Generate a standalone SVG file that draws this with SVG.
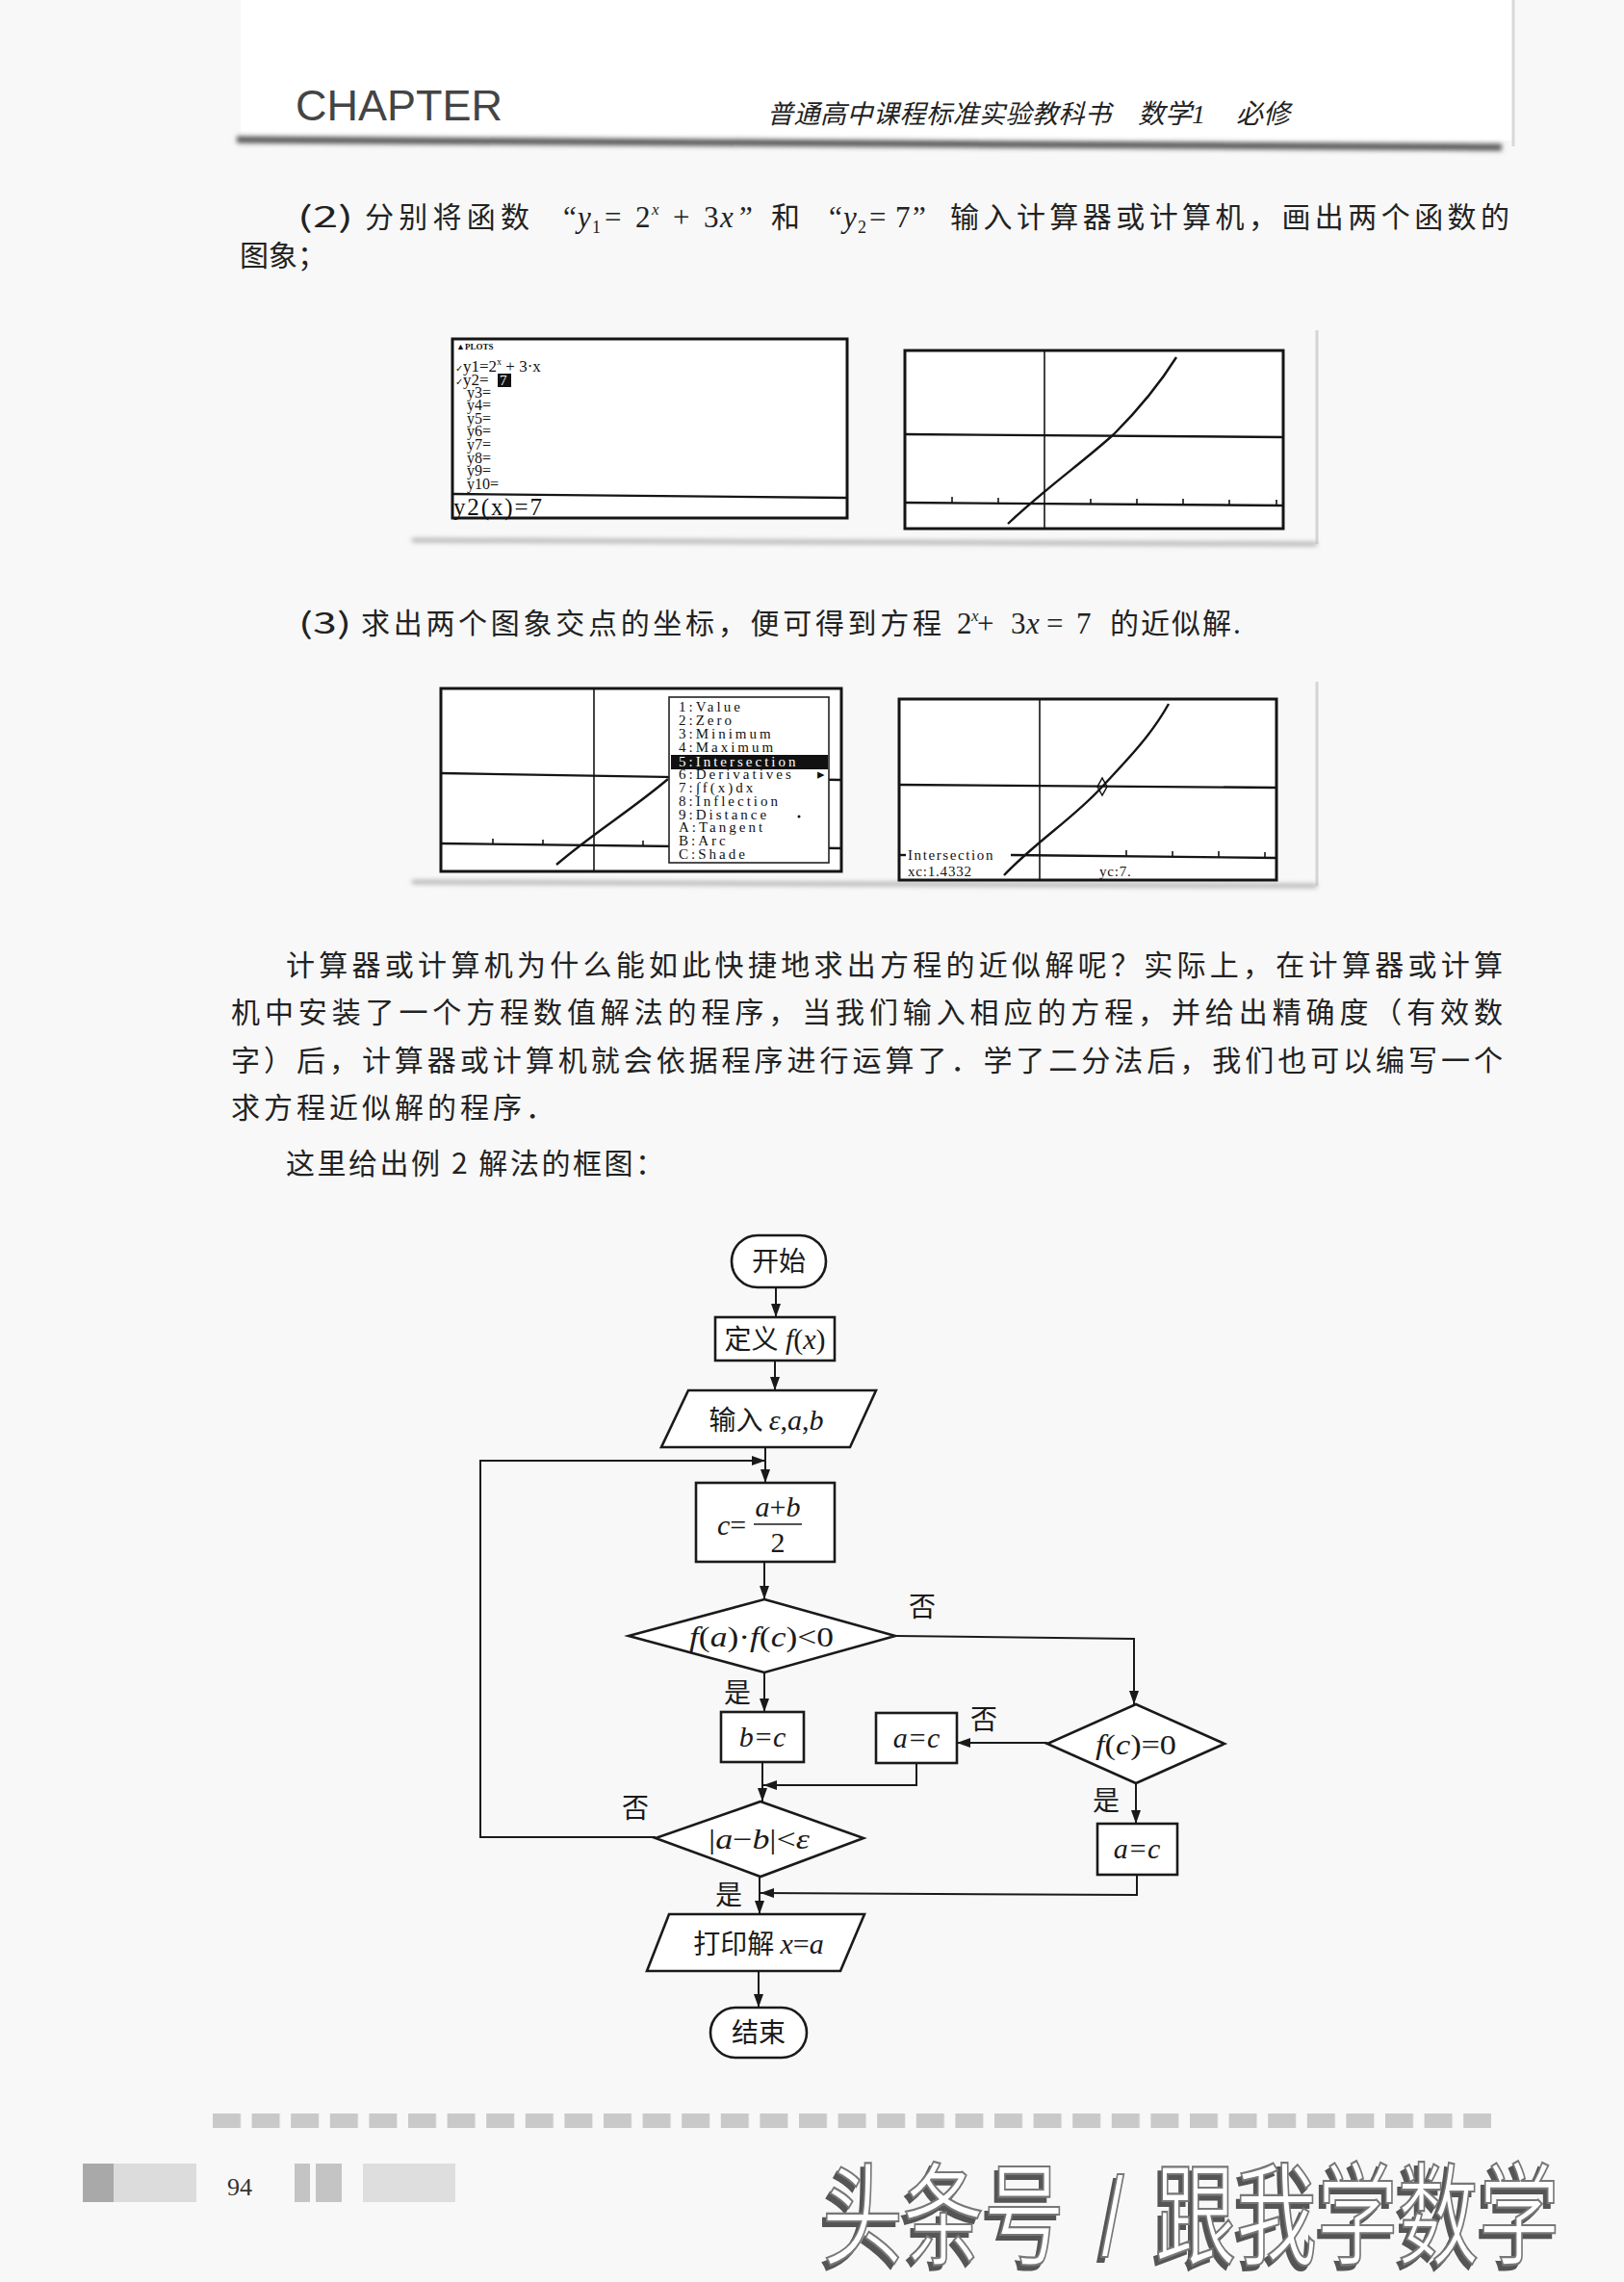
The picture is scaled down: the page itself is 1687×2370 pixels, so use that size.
<svg xmlns="http://www.w3.org/2000/svg" width="1687" height="2370" viewBox="0 0 1687 2370">
<defs>
<style>
.cn{font-family:"Noto Sans CJK SC","Noto Sans CJK JP",sans-serif;fill:#222;}
.bd{font-size:30px;}
.m{font-family:"Liberation Serif","DejaVu Serif",serif;fill:#222;}
.it{font-style:italic;}
.calc{font-family:"Liberation Serif","DejaVu Serif",serif;fill:#111;}
.scr{fill:#fff;stroke:#151515;stroke-width:3;}
.ax{stroke:#151515;stroke-width:2.4;fill:none;}
.thin{stroke:#151515;stroke-width:1.6;fill:none;}
.node{stroke:#1a1a1a;stroke-width:2.6;fill:#fff;}
.edge{stroke:#1a1a1a;stroke-width:2;fill:none;}
.fc{font-family:"Noto Sans CJK SC","Noto Sans CJK JP",sans-serif;font-size:28px;fill:#1a1a1a;}
.fm{font-family:"Liberation Serif","DejaVu Serif",serif;font-size:30px;fill:#1a1a1a;}
.mn{font-family:"Liberation Serif",serif;font-size:15px;letter-spacing:3px;fill:#111;}
</style>
<marker id="ah" markerWidth="14" markerHeight="10" refX="14" refY="5" orient="auto" markerUnits="userSpaceOnUse"><path d="M0,0 L14,5 L0,10 Z" fill="#1a1a1a"/></marker>
<filter id="blur" x="-5%" y="-200%" width="110%" height="500%"><feGaussianBlur stdDeviation="2.5"/></filter>
<filter id="blur2" x="-5%" y="-5%" width="110%" height="110%"><feGaussianBlur stdDeviation="1.5"/></filter>
<filter id="wshadow" x="-5%" y="-10%" width="110%" height="125%"><feDropShadow dx="-4" dy="5" stdDeviation="0.6" flood-color="#555" flood-opacity="1"/></filter>
<pattern id="dash" x="221" y="2195" width="40.6" height="16" patternUnits="userSpaceOnUse"><rect width="29" height="15" fill="#c9c9c9"/></pattern>
</defs>

<rect x="0" y="0" width="1687" height="2370" fill="#f8f8f8"/>

<!-- header -->
<g id="header">
<rect x="250" y="0" width="1322" height="146" fill="#fff"/>
<line x1="251" y1="0" x2="251" y2="146" stroke="#8a8a8a" stroke-width="3" filter="url(#blur2)"/>
<line x1="1572" y1="0" x2="1572" y2="152" stroke="#d8d8d8" stroke-width="3"/>
<path d="M246,145 L1560,153" stroke="#555" stroke-width="7" filter="url(#blur)"/>
<text x="307" y="125" font-family="Liberation Sans, Arial, sans-serif" font-size="45" fill="#444">CHAPTER</text>
<text x="797" y="128" class="cn" font-size="27" font-style="italic" fill="#333" textLength="357" lengthAdjust="spacing">普通高中课程标准实验教科书</text>
<text x="1182" y="128" class="cn" font-size="28" font-style="italic" fill="#333">数学<tspan font-family="Liberation Serif, serif" font-style="italic">1</tspan></text>
<text x="1284" y="128" class="cn" font-size="28" font-style="italic" fill="#333">必修</text>
</g>

<!-- paragraph (2) -->
<g id="para2">
<text x="309" y="236" class="cn bd" textLength="58" lengthAdjust="spacingAndGlyphs">(2)</text>
<text x="379" y="236" class="cn bd" textLength="171" lengthAdjust="spacing">分别将函数</text>
<text y="236" class="m" font-size="31"><tspan x="585">“</tspan><tspan x="600" class="it">y</tspan><tspan x="615" font-size="18" dy="6">1</tspan><tspan x="628" dy="-6">=</tspan><tspan x="660">2</tspan><tspan x="677" class="it" font-size="17" dy="-13">x</tspan><tspan x="699" dy="13">+</tspan><tspan x="731">3</tspan><tspan x="748" class="it">x</tspan><tspan x="768">”</tspan></text>
<text x="801" y="236" class="cn bd">和</text>
<text y="236" class="m" font-size="31"><tspan x="861">“</tspan><tspan x="876" class="it">y</tspan><tspan x="891" font-size="18" dy="6">2</tspan><tspan x="903" dy="-6">=</tspan><tspan x="930">7</tspan><tspan x="948">”</tspan></text>
<text x="987" y="236" class="cn bd" textLength="581" lengthAdjust="spacing">输入计算器或计算机，画出两个函数的</text>
<text x="249" y="276" class="cn bd">图象；</text>
</g>

<!-- screenshots row 1 -->
<g id="screens1">
<line x1="1368" y1="343" x2="1368" y2="565" stroke="#d5d5d5" stroke-width="3"/>
<path d="M428,561 L1368,565" stroke="#aaa" stroke-width="4" filter="url(#blur)"/>
<rect x="470" y="352" width="410" height="186" class="scr"/>
<line x1="470" y1="513" x2="880" y2="517" class="ax"/>
<text x="474" y="363" class="calc" font-size="9" font-weight="bold">▲PLOTS</text>
<text y="386" class="calc" font-size="17"><tspan x="473" font-family="DejaVu Sans, sans-serif" font-size="10">✓</tspan><tspan x="481">y1=2</tspan><tspan font-size="10" dy="-7">x</tspan><tspan dy="7"> + 3·x</tspan></text>
<text y="400" class="calc" font-size="17"><tspan x="473" font-family="DejaVu Sans, sans-serif" font-size="10">✓</tspan><tspan x="481">y2=</tspan></text>
<rect x="517" y="388" width="14" height="14" fill="#111"/>
<text x="519" y="400" class="calc" font-size="15" style="fill:#fff">7</text>
<text x="485" y="413" class="calc" font-size="16">y3=</text>
<text x="485" y="426" class="calc" font-size="16">y4=</text>
<text x="485" y="440" class="calc" font-size="16">y5=</text>
<text x="485" y="453" class="calc" font-size="16">y6=</text>
<text x="485" y="467" class="calc" font-size="16">y7=</text>
<text x="485" y="481" class="calc" font-size="16">y8=</text>
<text x="485" y="494" class="calc" font-size="16">y9=</text>
<text x="485" y="508" class="calc" font-size="16">y10=</text>
<text x="471" y="535" class="calc" font-size="25" textLength="92" lengthAdjust="spacing">y2(x)=7</text>

<rect x="940" y="364" width="393" height="185" class="scr"/>
<line x1="940" y1="451" x2="1333" y2="454" class="ax"/>
<line x1="940" y1="522" x2="1333" y2="525" class="ax"/>
<line x1="1085" y1="364" x2="1085" y2="549" class="thin"/>
<path d="M989,516 V522 M1037,517 V523 M1133,518 V524 M1181,518 V524 M1229,518 V524 M1277,519 V525 M1326,519 V525" class="thin"/>
<path d="M1047,544 C1085,508 1125,480 1157,451 C1180,428 1205,398 1222,371" class="ax"/>
</g>

<!-- paragraph (3) -->
<g id="para3">
<text x="310" y="658" class="cn bd" textLength="55" lengthAdjust="spacingAndGlyphs">(3)</text>
<text x="375" y="658" class="cn bd" textLength="603" lengthAdjust="spacing">求出两个图象交点的坐标，便可得到方程</text>
<text y="658" class="m" font-size="31"><tspan x="994">2</tspan><tspan x="1009" class="it" font-size="17" dy="-13">x</tspan><tspan x="1015" dy="13">+</tspan><tspan x="1050">3</tspan><tspan x="1066" class="it">x</tspan><tspan x="1087">=</tspan><tspan x="1118">7</tspan></text>
<text x="1153" y="658" class="cn bd" textLength="126" lengthAdjust="spacing">的近似解</text>
<text x="1281" y="658" class="m" font-size="31">.</text>
</g>

<!-- screenshots row 2 -->
<g id="screens2">
<line x1="1368" y1="708" x2="1368" y2="920" stroke="#d5d5d5" stroke-width="3"/>
<path d="M428,916 L1368,920" stroke="#aaa" stroke-width="4" filter="url(#blur)"/>
<rect x="458" y="715" width="416" height="190" class="scr"/>
<line x1="458" y1="803" x2="874" y2="810" class="ax"/>
<line x1="458" y1="876" x2="874" y2="881" class="ax"/>
<line x1="617" y1="715" x2="617" y2="905" class="thin"/>
<path d="M512,871 V877 M564,872 V878 M668,873 V879" class="thin"/>
<path d="M578,898 C615,866 655,842 694,809" class="ax"/>
<rect x="695" y="724" width="166" height="172" fill="#fff" stroke="#222" stroke-width="1.6"/>
<rect x="697" y="784" width="163" height="15" fill="#111"/>
<text x="705" y="739" class="mn">1:Value</text>
<text x="705" y="753" class="mn">2:Zero</text>
<text x="705" y="767" class="mn">3:Minimum</text>
<text x="705" y="781" class="mn">4:Maximum</text>
<text x="705" y="796" class="mn" style="fill:#fff">5:Intersection</text>
<text x="705" y="809" class="mn">6:Derivatives</text>
<text x="849" y="809" class="mn">▸</text>
<text x="705" y="823" class="mn">7:∫f(x)dx</text>
<text x="705" y="837" class="mn">8:Inflection</text>
<text x="705" y="851" class="mn">9:Distance</text>
<circle cx="830" cy="848" r="1.5" fill="#111"/>
<text x="705" y="864" class="mn">A:Tangent</text>
<text x="705" y="878" class="mn">B:Arc</text>
<text x="705" y="892" class="mn">C:Shade</text>

<rect x="934" y="726" width="392" height="188" class="scr"/>
<line x1="934" y1="815" x2="1326" y2="818" class="ax"/>
<line x1="1050" y1="888" x2="1326" y2="891" class="ax"/>
<line x1="934" y1="888" x2="941" y2="888" class="ax"/>
<line x1="1080" y1="726" x2="1080" y2="914" class="thin"/>
<path d="M1170,883 V889 M1218,884 V890 M1266,884 V890 M1314,885 V891" class="thin"/>
<path d="M1043,909 C1075,875 1115,850 1145,817 C1170,790 1195,765 1214,731" class="ax"/>
<path d="M1145,808 L1150,817 L1145,826 L1140,817 Z" fill="none" stroke="#111" stroke-width="1.5"/>
<text x="943" y="893" class="mn" font-size="15" style="letter-spacing:1.6px">Intersection</text>
<text x="943" y="910" class="mn" font-size="14" style="letter-spacing:0.8px">xc:1.4332</text>
<text x="1142" y="910" class="mn" font-size="14" style="letter-spacing:0.8px">yc:7.</text>
</g>

<!-- body paragraphs -->
<g id="body">
<text x="297" y="1013" class="cn bd" textLength="1264" lengthAdjust="spacing">计算器或计算机为什么能如此快捷地求出方程的近似解呢？实际上，在计算器或计算</text>
<text x="240" y="1062" class="cn bd" textLength="1321" lengthAdjust="spacing">机中安装了一个方程数值解法的程序，当我们输入相应的方程，并给出精确度（有效数</text>
<text x="240" y="1112" class="cn bd" textLength="1321" lengthAdjust="spacing">字）后，计算器或计算机就会依据程序进行运算了．学了二分法后，我们也可以编写一个</text>
<text x="240" y="1161" class="cn bd" textLength="336" lengthAdjust="spacing">求方程近似解的程序．</text>
<text x="297" y="1219" class="cn bd" textLength="393" lengthAdjust="spacing">这里给出例 2 解法的框图：</text>
</g>

<!-- flowchart connectors -->
<g id="connectors">
<path d="M806,1337 L806,1368" class="edge" marker-end="url(#ah)"/>
<path d="M805,1413 L805,1444" class="edge" marker-end="url(#ah)"/>
<path d="M795,1503 L795,1540" class="edge" marker-end="url(#ah)"/>
<path d="M681,1908 L499,1908 L499,1517 L795,1517" class="edge" marker-end="url(#ah)"/>
<path d="M794,1622 L794,1661" class="edge" marker-end="url(#ah)"/>
<path d="M930,1699 L1178,1702 L1178,1770" class="edge" marker-end="url(#ah)"/>
<path d="M794,1737 L794,1778" class="edge" marker-end="url(#ah)"/>
<path d="M1088,1810 L994,1810" class="edge" marker-end="url(#ah)"/>
<path d="M952,1831 L952,1854 L793,1854" class="edge" marker-end="url(#ah)"/>
<path d="M792,1830 L792,1871" class="edge" marker-end="url(#ah)"/>
<path d="M1180,1852 L1180,1894" class="edge" marker-end="url(#ah)"/>
<path d="M1181,1947 L1181,1968 L790,1966" class="edge" marker-end="url(#ah)"/>
<path d="M789,1949 L789,1988" class="edge" marker-end="url(#ah)"/>
<path d="M788,2047 L788,2085" class="edge" marker-end="url(#ah)"/>
</g>

<!-- flowchart nodes -->
<g id="n-start">
<rect x="760" y="1283" width="98" height="54" rx="27" class="node"/>
<text x="809" y="1320" text-anchor="middle" class="fc">开始</text>
</g>
<g id="n-define">
<rect x="743" y="1368" width="124" height="45" class="node"/>
<text x="805" y="1401" text-anchor="middle" class="fc">定义<tspan class="fm" font-style="italic"> f</tspan><tspan class="fm">(</tspan><tspan class="fm" font-style="italic">x</tspan><tspan class="fm">)</tspan></text>
</g>
<g id="n-input">
<path d="M715,1444 L910,1444 L883,1503 L687,1503 Z" class="node"/>
<text x="796" y="1485" text-anchor="middle" class="fc" font-size="30">输入 <tspan class="fm" font-style="italic">ε</tspan><tspan class="fm">,</tspan><tspan class="fm" font-style="italic">a</tspan><tspan class="fm">,</tspan><tspan class="fm" font-style="italic">b</tspan></text>
</g>
<g id="n-c">
<rect x="723" y="1540" width="144" height="82" class="node"/>
<text x="745" y="1594" class="fm"><tspan font-style="italic">c</tspan>=</text>
<text x="808" y="1575" text-anchor="middle" class="fm" font-size="26"><tspan font-style="italic">a</tspan>+<tspan font-style="italic">b</tspan></text>
<line x1="783" y1="1583" x2="833" y2="1583" stroke="#1a1a1a" stroke-width="1.3"/>
<text x="808" y="1612" text-anchor="middle" class="fm" font-size="27">2</text>
</g>
<g id="n-d1">
<path d="M794,1661 L930,1699 L794,1737 L653,1699 Z" class="node"/>
<text x="716" y="1710" class="fm" font-size="32" textLength="150" lengthAdjust="spacingAndGlyphs"><tspan font-style="italic">f</tspan>(<tspan font-style="italic">a</tspan>)·<tspan font-style="italic">f</tspan>(<tspan font-style="italic">c</tspan>)&lt;0</text>
</g>
<g id="n-bc">
<rect x="749" y="1778" width="86" height="52" class="node"/>
<text x="792" y="1814" text-anchor="middle" class="fm" font-style="italic">b=c</text>
</g>
<g id="n-ac1">
<rect x="910" y="1779" width="84" height="52" class="node"/>
<text x="952" y="1815" text-anchor="middle" class="fm" font-style="italic">a=c</text>
</g>
<g id="n-d2">
<path d="M1180,1770 L1272,1811 L1180,1852 L1088,1811 Z" class="node"/>
<text x="1138" y="1822" class="fm" font-size="32" textLength="84" lengthAdjust="spacingAndGlyphs"><tspan font-style="italic">f</tspan>(<tspan font-style="italic">c</tspan>)=0</text>
</g>
<g id="n-ac2">
<rect x="1140" y="1894" width="83" height="53" class="node"/>
<text x="1181" y="1930" text-anchor="middle" class="fm" font-style="italic">a=c</text>
</g>
<g id="n-d3">
<path d="M790,1871 L897,1909 L790,1949 L681,1909 Z" class="node"/>
<text x="736" y="1920" class="fm" font-size="32" textLength="105" lengthAdjust="spacingAndGlyphs">|<tspan font-style="italic">a</tspan>−<tspan font-style="italic">b</tspan>|&lt;<tspan font-style="italic">ε</tspan></text>
</g>
<g id="n-print">
<path d="M695,1988 L898,1988 L873,2047 L672,2047 Z" class="node"/>
<text x="788" y="2029" text-anchor="middle" class="fc" font-size="30">打印解 <tspan class="fm" font-style="italic">x</tspan><tspan class="fm">=</tspan><tspan class="fm" font-style="italic">a</tspan></text>
</g>
<g id="n-end">
<rect x="738" y="2085" width="100" height="52" rx="26" class="node"/>
<text x="788" y="2121" text-anchor="middle" class="fc">结束</text>
</g>

<!-- branch labels -->
<g id="labels">
<text x="958" y="1679" text-anchor="middle" class="fc">否</text>
<text x="766" y="1768" text-anchor="middle" class="fc">是</text>
<text x="1022" y="1796" text-anchor="middle" class="fc">否</text>
<text x="660" y="1888" text-anchor="middle" class="fc">否</text>
<text x="1149" y="1880" text-anchor="middle" class="fc">是</text>
<text x="757" y="1978" text-anchor="middle" class="fc">是</text>
</g>

<!-- footer -->
<g id="footer">
<rect x="221" y="2195" width="1328" height="15" fill="url(#dash)"/>
<rect x="86" y="2247" width="32" height="40" fill="#a9a9a9"/>
<rect x="118" y="2247" width="86" height="40" fill="#dcdcdc"/>
<text x="236" y="2280" font-family="Liberation Serif, serif" font-size="26" fill="#333">94</text>
<rect x="306" y="2247" width="16" height="40" fill="#c4c4c4"/>
<rect x="328" y="2247" width="27" height="40" fill="#c4c4c4"/>
<rect x="377" y="2247" width="96" height="40" fill="#dedede"/>
</g>

<!-- watermark -->
<g id="watermark" filter="url(#wshadow)">
<g transform="translate(854,2343) scale(1,1.38)" font-family="Noto Sans CJK SC, sans-serif" font-size="84" fill="#fff" stroke="#777" stroke-width="1.6">
<text x="0" y="0">头条号</text>
<text x="290" y="0" font-family="Liberation Sans, sans-serif">/</text>
<text x="346" y="0">跟我学数学</text>
</g>
</g>
</svg>
